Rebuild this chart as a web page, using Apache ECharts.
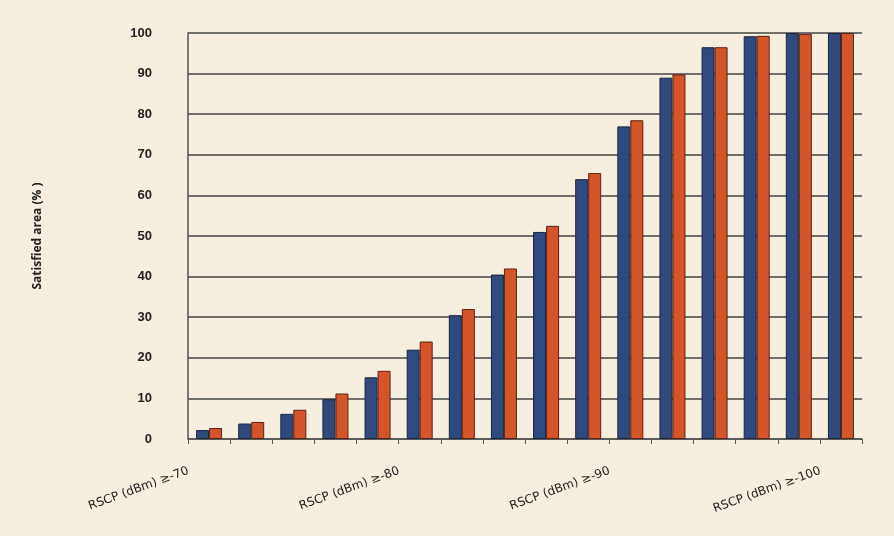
<!DOCTYPE html>
<html>
<head>
<meta charset="utf-8">
<script src="https://cdn.jsdelivr.net/npm/echarts@6/dist/echarts.min.js"></script>
<style>
  html, body { margin: 0; padding: 0; background: #f6eedf; }
  #chart { width: 894px; height: 536px; }
</style>
</head>
<body>
<div id="chart"></div>
<script>
// RSCP thresholds, -70 .. -100 dBm in 2 dB steps
var categories = [];
for (var i = 0; i < 16; i++) {
    categories.push('RSCP (dBm) \u2265' + (-70 - 2 * i));
}
var seriesA = [2.2, 3.8, 6.2, 9.8, 15.2, 22, 30.5, 40.5, 51, 64, 77, 89, 96.5, 99.2, 100, 100];
var seriesB = [2.7, 4.2, 7.2, 11.2, 16.8, 24, 32, 42, 52.5, 65.5, 78.5, 89.8, 96.5, 99.3, 99.8, 100];
var yTicks = [0, 10, 20, 30, 40, 50, 60, 70, 80, 90, 100];

var myChart = echarts.init(document.getElementById('chart'));
var option = {
    backgroundColor: '#f6eedf',
    grid: { left: 188, right: 32, top: 33, bottom: 97 },
    xAxis: {
        type: 'category',
        data: categories,
        axisLine: { lineStyle: { color: '#555', width: 1.5 } },
        axisTick: { show: true, interval: 0, lineStyle: { color: '#555' } },
        axisLabel: {
            interval: function (idx) { return idx % 5 === 0; },
            rotate: 20,
            margin: 24,
            padding: [0, 22, 0, 0],
            color: '#222',
            fontFamily: 'DejaVu Sans',
            fontSize: 12
        }
    },
    yAxis: {
        type: 'value',
        min: 0,
        max: 100,
        interval: 10,
        name: 'Satisfied area (% )',
        nameLocation: 'middle',
        nameGap: 144,
        nameTextStyle: { color: '#222', fontSize: 12, fontWeight: 'bold', fontFamily: 'Open Sans' },
        axisLine: { show: true, lineStyle: { color: '#555', width: 1.5 } },
        axisLabel: {
            color: '#222', fontSize: 13, fontWeight: 'bold', margin: 36,
            formatter: function (v) { return yTicks.indexOf(v) >= 0 ? v : ''; }
        },
        splitLine: { lineStyle: { color: '#444', width: 1.5 } }
    },
    series: [{
        type: 'bar',
        data: seriesA,
        barWidth: 13,
        barGap: '0%',
        itemStyle: { color: '#2f4a7c', borderColor: '#1a2540', borderWidth: 1 }
    }, {
        type: 'bar',
        data: seriesB,
        barWidth: 13,
        itemStyle: { color: '#d4552a', borderColor: '#5a2010', borderWidth: 1 }
    }]
};
myChart.setOption(option);
</script>
</body>
</html>
